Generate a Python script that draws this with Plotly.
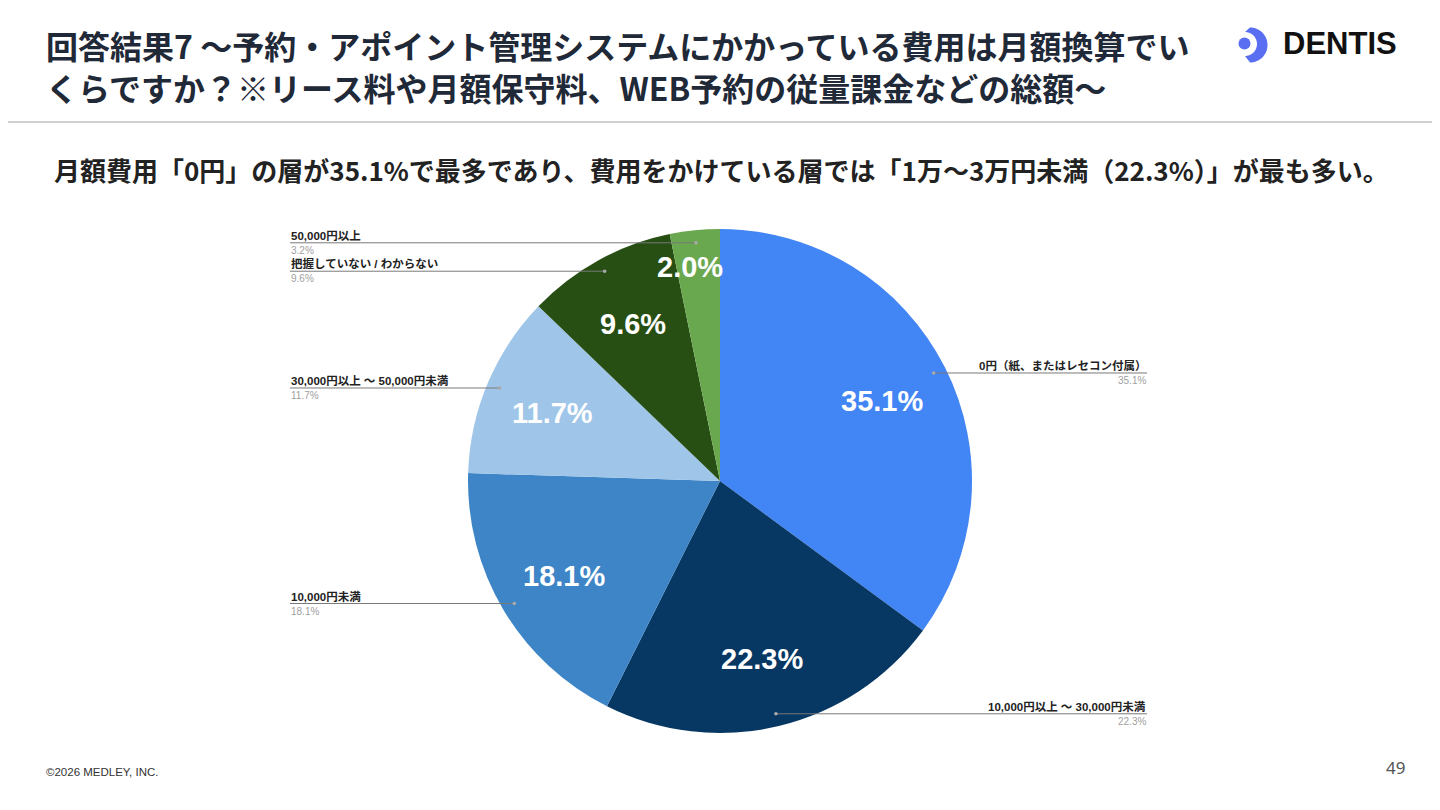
import math
import plotly.graph_objects as go

# 回答データ
labels = ['0円（紙、またはレセコン付属）', '10,000円以上 ～ 30,000円未満', '10,000円未満',
          '30,000円以上 ～ 50,000円未満', '把握していない / わからない', '50,000円以上']
values = [35.1, 22.3, 18.1, 11.7, 9.6, 3.2]
inside_text = ['35.1%', '22.3%', '18.1%', '11.7%', '9.6%', '2.0%']
colors = ['#4285F4', '#073763', '#3D85C6', '#9FC5E8', '#274E13', '#6AA84F']

W, H = 1440, 810
OFF = 8  # ページ余白ぶんの補正
cx, cy, R = 720, 481, 252  # 円の中心・半径 (px)


def px(x):
    return (x - OFF) / W


def py(y):
    return 1 - (y - OFF) / H


fig = go.Figure(go.Pie(
    labels=labels, values=values, sort=False, direction='clockwise', rotation=0,
    marker=dict(colors=colors, line=dict(width=0)),
    textinfo='none', hoverinfo='label+percent', showlegend=False,
    domain=dict(x=[px(cx - R), px(cx + R)], y=[py(cy + R), py(cy - R)]),
))

ann = []
shapes = []

total = sum(values)
cum = 0
for lab, v, t in zip(labels, values, inside_text):
    mid = (cum + v / 2) / total * 2 * math.pi
    cum += v
    dx, dy = math.sin(mid), -math.cos(mid)
    # 内側ラベル
    rf = 0.86 if v / total < 0.05 else 0.72
    ann.append(dict(x=px(cx + dx * R * rf - (8 if v / total < 0.05 else 0)), y=py(cy + dy * R * rf + 2),
                    text=t, showarrow=False,
                    font=dict(family='Liberation Sans', size=29, color='white', weight='bold'),
                    xanchor='center', yanchor='middle'))
    # 引き出し線
    ex, ey = cx + dx * R * 0.95, cy + dy * R * 0.95
    if dx > 0:
        x0, x1, tx, anc = ex, 1147, 1147, 'right'
    else:
        x0, x1, tx, anc = 290, ex, 290, 'left'
    shapes.append(dict(type='line', xref='paper', yref='paper', x0=px(x0), x1=px(x1),
                       y0=py(ey), y1=py(ey), line=dict(color='#7a7a7a', width=1)))
    shapes.append(dict(type='circle', xref='paper', yref='paper', x0=px(ex - 1.8), x1=px(ex + 1.8),
                       y0=py(ey + 1.8), y1=py(ey - 1.8), fillcolor='#aaaaaa', line=dict(width=0)))
    ann.append(dict(x=px(tx), y=py(ey), text=lab, showarrow=False, xanchor=anc, yanchor='bottom',
                    borderpad=0,
                    font=dict(family='Liberation Sans, Noto Sans CJK JP', size=11.5, color='#222222',
                              weight='bold')))
    ann.append(dict(x=px(tx), y=py(ey + 1), text=f'{v:.1f}%', showarrow=False, xanchor=anc, yanchor='top',
                    borderpad=0,
                    font=dict(family='Liberation Sans', size=10, color='#a0a0a0')))

# タイトル
title_font = dict(family='Noto Sans CJK JP', size=32, color='#1f2937', weight='bold')
ann.append(dict(x=px(44), y=py(45), text='回答結果7 ～予約・アポイント管理システムにかかっている費用は月額換算でい',
                showarrow=False, xanchor='left', yanchor='middle', font=title_font))
ann.append(dict(x=px(44), y=py(87), text='くらですか？※リース料や月額保守料、WEB予約の従量課金などの総額～',
                showarrow=False, xanchor='left', yanchor='middle', font=title_font))
ann.append(dict(x=px(721), y=py(170),
                text='月額費用「0円」の層が35.1%で最多であり、費用をかけている層では「1万～3万円未満（22.3%）」が最も多い。',
                showarrow=False, xanchor='center', yanchor='middle',
                font=dict(family='Noto Sans CJK JP', size=26, color='#222222', weight='bold')))

# ロゴ
logo_blue = '#5a6ef2'
ann.append(dict(x=px(1281), y=py(44), text='DENTIS', showarrow=False, xanchor='left', yanchor='middle',
                font=dict(family='Liberation Sans', size=31, color='#111111', weight='bold')))
shapes.append(dict(type='circle', xref='paper', yref='paper', x0=px(1238.5), x1=px(1250.5),
                   y0=py(49.5), y1=py(37.5), fillcolor=logo_blue, line=dict(width=0)))
pts = []
for k in range(0, 37):
    a = math.radians(-90 + 5 * k)
    pts.append((1250 + 17.5 * math.cos(a), 45 + 17.5 * math.sin(a)))
for k in range(0, 37):
    a = math.radians(90 - 5 * k)
    pts.append((1245 + 12 * math.cos(a), 44 + 12 * math.sin(a)))
path = 'M ' + ' L '.join(f'{px(x):.5f},{py(y):.5f}' for x, y in pts) + ' Z'
shapes.append(dict(type='path', xref='paper', yref='paper', path=path,
                   fillcolor=logo_blue, line=dict(width=0)))

# 区切り線
shapes.append(dict(type='line', xref='paper', yref='paper', x0=0, x1=1, y0=py(122), y1=py(122),
                   line=dict(color='#d0d0d0', width=2)))

# フッター
ann.append(dict(x=px(44), y=py(772), text='©2026 MEDLEY, INC.', showarrow=False, xanchor='left',
                yanchor='middle', font=dict(family='Liberation Sans Narrow, Liberation Sans', size=11.5,
                                            color='#333333')))
ann.append(dict(x=px(1407), y=py(767), text='49', showarrow=False, xanchor='right', yanchor='middle',
                font=dict(family='Noto Sans', size=17, color='#555555')))

fig.update_layout(
    width=W, height=H, margin=dict(l=0, r=0, t=0, b=0),
    paper_bgcolor='white', plot_bgcolor='white',
    annotations=ann, shapes=shapes,
)

fig.write_html("out.html")
